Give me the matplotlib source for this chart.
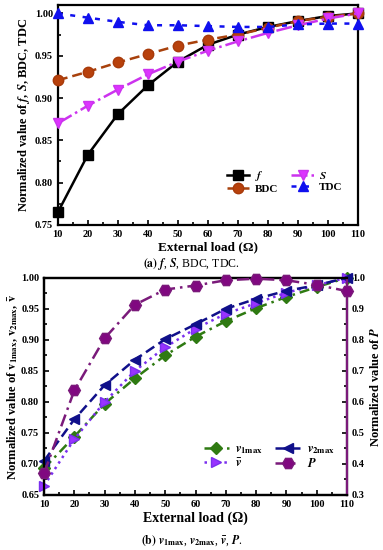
import matplotlib
matplotlib.use('Agg')
import matplotlib.pyplot as plt
from matplotlib.ticker import MultipleLocator

plt.rcParams['font.family'] = ['Liberation Serif', 'DejaVu Serif']
plt.rcParams['font.weight'] = 'bold'
plt.rcParams['mathtext.fontset'] = 'stix'

# ---- data, panel (a)
load = [10, 20, 30, 40, 50, 60, 70, 80, 90, 100, 110]
f_val = [0.765, 0.833, 0.881, 0.915, 0.943, 0.963, 0.975, 0.984, 0.991, 0.997, 1.000]
bdc_val = [0.921, 0.931, 0.942, 0.952, 0.962, 0.969, 0.975, 0.983, 0.991, 0.996, 1.000]
s_val = [0.870, 0.891, 0.910, 0.928, 0.943, 0.956, 0.967, 0.977, 0.986, 0.994, 1.000]
tdc_val = [1.000, 0.995, 0.990, 0.986, 0.986, 0.985, 0.984, 0.984, 0.987, 0.988, 0.988]

# ---- data, panel (b)
v1max_val = [0.693, 0.744, 0.797, 0.838, 0.875, 0.905, 0.930, 0.951, 0.969, 0.985, 1.000]
v2max_val = [0.705, 0.772, 0.827, 0.868, 0.901, 0.925, 0.950, 0.966, 0.979, 0.988, 1.000]
vbar_val = [0.665, 0.740, 0.800, 0.850, 0.888, 0.918, 0.942, 0.959, 0.976, 0.988, 1.000]
p_val = [0.37, 0.637, 0.805, 0.913, 0.962, 0.975, 0.992, 0.997, 0.992, 0.977, 0.957]

fig = plt.figure(figsize=(3.83, 5.5), dpi=100)


def style_axis(ax):
    for sp in ax.spines.values():
        sp.set_linewidth(1.6)
    ax.tick_params(direction='in', which='both', labelsize=7.5, width=1.2,
                   top=False, right=False)
    ax.tick_params(which='major', length=3.5)
    ax.tick_params(which='minor', length=2)
    for lab in ax.get_xticklabels() + ax.get_yticklabels():
        lab.set_fontweight('bold')


# ---------------- panel (a)
ax1 = fig.add_axes([0.151, 0.591, 0.784, 0.400])
mk = dict(markersize=7.5, clip_on=False, zorder=3)
ax1.plot(load, f_val, '-', color='black', lw=1.8, marker='s', label=r'$\mathit{f}$', **mk)
ax1.plot(load, bdc_val, '--', color='#a8410c', lw=1.8, marker='o',
         markerfacecolor='#b8410c', markeredgecolor='#a83a0a', dashes=(4, 2),
         label='BDC', **mk)
ax1.plot(load, s_val, '-.', color='#cc33ee', lw=1.8, marker='v',
         markerfacecolor='#dd33ff', markeredgecolor='#cc33ee',
         label=r'$\mathit{S}$', **mk)
ax1.plot(load, tdc_val, color='#1010ee', lw=1.8, marker='^', dashes=(2, 3),
         label='TDC', **mk)
ax1.set_xlim(10, 110)
ax1.set_ylim(0.75, 1.01)
ax1.set_xticks(load)
ax1.yaxis.set_major_locator(MultipleLocator(0.05))
ax1.xaxis.set_minor_locator(MultipleLocator(5))
ax1.yaxis.set_minor_locator(MultipleLocator(0.025))
ax1.yaxis.set_major_formatter(plt.FormatStrFormatter('%.2f'))
style_axis(ax1)
ax1.set_xlabel('External load (Ω)', fontsize=9.5, fontweight='bold', labelpad=2)
ax1.set_ylabel(r'Normalized value of $\mathbf{\mathit{f}}$, $\mathbf{\mathit{S}}$, BDC, TDC',
               fontsize=9, fontweight='bold', labelpad=2)
ax1.legend(ncol=2, loc='upper left', bbox_to_anchor=(0.53, 0.30), frameon=False,
           handlelength=2.0, columnspacing=1.2, labelspacing=0.1,
           handletextpad=0.5, prop={'weight': 'bold', 'size': 8})
fig.text(0.5, 0.514, r'$\mathbf{(a)}$ $\mathit{f}$, $\mathit{S}$, BDC, TDC.', ha='center',
         fontsize=8.5, fontweight='normal')

# ---------------- panel (b)
ax2 = fig.add_axes([0.115, 0.100, 0.791, 0.395])
ax2.plot(load, v1max_val, color='#2f7a12', lw=1.8, marker='D', markersize=6.5,
         dashes=(4, 2, 1, 2), label=r'$\mathit{v}_{\mathrm{1max}}$', clip_on=False, zorder=3)
ax2.plot(load, vbar_val, ':', color='#7a2fee', lw=1.8, marker='>', markersize=7.5,
         markerfacecolor='#9933ff', label=r'$\bar{\mathit{v}}$', clip_on=False, zorder=3)
ax2.plot(load, v2max_val, '--', color='#10108a', lw=1.8, marker='<', markersize=7.5,
         dashes=(4, 2), label=r'$\mathit{v}_{\mathrm{2max}}$', clip_on=False, zorder=3)
ax2.set_xlim(10, 110)
ax2.set_ylim(0.65, 1.0)
ax2.set_xticks(load)
ax2.yaxis.set_major_locator(MultipleLocator(0.05))
ax2.xaxis.set_minor_locator(MultipleLocator(5))
ax2.yaxis.set_minor_locator(MultipleLocator(0.025))
ax2.yaxis.set_major_formatter(plt.FormatStrFormatter('%.2f'))
style_axis(ax2)
ax2.set_xlabel('External load (Ω)', fontsize=10, fontweight='bold', labelpad=2)
ax2.set_ylabel(r'Normalized value of $\mathbf{v}_{\mathbf{1max}}$, $\mathbf{v}_{\mathbf{2max}}$, $\bar{\mathbf{v}}$',
               fontsize=9, fontweight='bold', labelpad=1)

ax3 = ax2.twinx()
ax3.plot(load, p_val, color='#7a1a7a', lw=1.8, marker='H', markersize=8.5,
         markerfacecolor='#800880', dashes=(5, 2, 1, 2), label=r'$\mathit{P}$',
         clip_on=False, zorder=3)
ax3.set_ylim(0.3, 1.0)
ax3.yaxis.set_major_locator(MultipleLocator(0.1))
ax3.yaxis.set_minor_locator(MultipleLocator(0.05))
ax3.yaxis.set_major_formatter(plt.FormatStrFormatter('%.1f'))
for sp in ax3.spines.values():
    sp.set_linewidth(1.6)
ax3.spines['right'].set_color('#7a1a7a')
ax3.tick_params(direction='in', which='both', labelsize=7.5, width=1.2)
ax3.tick_params(which='major', length=3.5)
ax3.tick_params(which='minor', length=2)
for lab in ax3.get_yticklabels():
    lab.set_fontweight('bold')
ax3.set_ylabel(r'Normalized value of $\mathbf{\mathit{P}}$', fontsize=9,
               fontweight='bold', labelpad=3)

h2, l2 = ax2.get_legend_handles_labels()
h3, l3 = ax3.get_legend_handles_labels()
ax3.legend(h2 + h3, l2 + l3, ncol=2, loc='upper left', bbox_to_anchor=(0.49, 0.29),
           frameon=False, handlelength=2.0, columnspacing=1.0, labelspacing=0.1,
           handletextpad=0.5, prop={'weight': 'bold', 'size': 9})

fig.text(0.5, 0.012, r'$\mathbf{(b)}$ $\mathit{v}_{\mathrm{1max}}$, $\mathit{v}_{\mathrm{2max}}$, $\bar{\mathit{v}}$, $\mathit{P}$.',
         ha='center', fontsize=8.5, fontweight='normal')

fig.savefig('out.png', dpi=100)
